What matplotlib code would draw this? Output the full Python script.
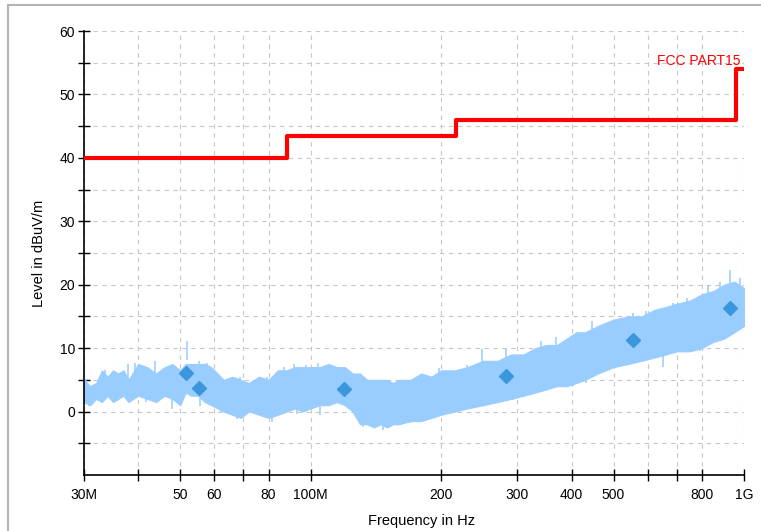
import matplotlib
matplotlib.use("Agg")
import matplotlib.pyplot as plt
from matplotlib.lines import Line2D

plt.rcParams['font.family'] = ['Liberation Sans', 'DejaVu Sans']

# spectrum band (MHz, dBuV/m)
spec_freq = [30, 31, 32, 33, 34, 35, 36, 37, 38, 40, 42, 44, 46, 48, 50, 51.5, 53, 55, 57, 59,
             61, 63, 66, 69, 72, 76, 80, 84, 88, 92, 96, 100, 105, 110, 115, 120, 125, 130,
             135, 140, 145, 150, 155, 160, 170, 180, 190, 200, 215, 230, 250, 270, 290, 310,
             330, 350, 370, 390, 410, 430, 460, 500, 540, 580, 620, 660, 700, 750, 800, 850,
             900, 950, 1000]
spec_hi = [5, 4, 4.5, 6.5, 5.5, 6.5, 6, 6.5, 5, 7.5, 7, 6, 7, 7.5, 6.5, 7.5, 7.5, 7.5, 7.5, 7,
           6, 5, 5.5, 5, 4.5, 5.5, 5, 6.5, 6.5, 7, 7, 7, 7, 7.5, 7, 7, 6, 6,
           5, 5, 5, 5, 4.5, 5, 5, 6, 5.5, 6.5, 6.5, 7, 8, 8, 9, 9,
           10, 10.5, 10.5, 11.5, 12.5, 12.5, 13.5, 14.5, 15, 15, 16, 16.5, 17, 17.5, 18.5, 19,
           20, 20.5, 19.5]
spec_lo = [1.5, 1, 2, 1.5, 2.5, 1.5, 2, 2.5, 1.5, 2.5, 2, 1.5, 2.5, 2, 1, 3, 2.5, 2.5, 1.5, 1,
           0.5, 0, -0.5, -1, 0, -0.5, -1, -0.5, 0, 0.5, 0, 0.5, 1, 1, 1.5, 1, 0, -2,
           -2, -2.5, -2, -2.5, -2, -2, -1.5, -1.5, -1, -0.5, 0, 0.5, 1, 1.5, 2, 2.5,
           3, 3.5, 4, 4, 4.5, 5, 6, 7, 7.5, 8, 8.5, 9, 9.5, 9.5, 10, 11,
           11.5, 12.5, 13.5]

# narrow peaks above the band
up_freq = [30.3, 33.5, 37.9, 39.4, 43.8, 46.5, 51.8, 55.4, 57.8, 61.3, 68.8, 79.2, 86.6, 91.6,
           97.8, 104, 121, 131, 144, 168, 198, 229, 249, 283, 340, 369, 445, 555, 594, 686,
           737, 826, 879, 930, 977]
up_top = [5.1, 6.6, 7.5, 7.7, 7.9, 6.9, 11.2, 7.9, 7.6, 5.7, 5.4, 5.4, 7.0, 7.5,
          7.4, 7.6, 6.3, 5.5, 4.7, 5.0, 6.8, 7.4, 9.8, 10.0, 11.1, 11.7, 14.3, 15.6, 15.8, 17.1,
          17.9, 20.0, 20.5, 22.3, 21.0]

# narrow dips below the band
down_freq = [30.8, 35.1, 41.6, 47.8, 55.6, 62, 67.7, 81.3, 93, 105, 132, 147, 169.5, 198,
             237, 293, 309, 403, 433, 499, 596, 650, 791, 895, 993]
down_bot = [0.9, 1.5, 1.5, 0.4, 0.9, -0.1, -1.2, -1.7, -0.4, -0.5, -2.4, -2.9, -1.8, -0.3,
            0.8, 1.8, 2.5, 4.0, 4.5, 7.0, 8.3, 7.0, 9.6, 11.4, 13.2]

# quasi-peak markers
mark_freq = [51.5, 55.4, 119.6, 283, 554, 930]
mark_level = [6.1, 3.7, 3.5, 5.6, 11.3, 16.4]

# FCC part 15 class B limit
limit_freq = [30, 88, 216, 960, 1000]
limit_level = [40, 43.5, 46, 54, 54]

xtick_major = [30, 50, 60, 80, 100, 200, 300, 400, 500, 800, 1000]
xtick_labels = ['30M', '50', '60', '80', '100M', '200', '300', '400', '500', '800', '1G']
xtick_minor = [40, 70, 600, 700]

fig = plt.figure(figsize=(7.61, 5.31), dpi=100)
ax = fig.add_axes([84 / 761, 56 / 531, 660 / 761, 444 / 531])

band = '#99ccff'
ax.fill_between(spec_freq, spec_lo, spec_hi, color=band, lw=0.8, edgecolor=band, zorder=2)
ax.vlines(up_freq, [t - 3 for t in up_top], up_top, color=band, lw=1.1, zorder=2)
ax.vlines(down_freq, down_bot, [b + 3 for b in down_bot], color=band, lw=1.1, zorder=2)
ax.plot(mark_freq, mark_level, 'D', color='#3c96dc', ms=7, mec='#3c96dc', zorder=4)
ax.step(limit_freq, limit_level, where='post', color='#ff0000', lw=3, zorder=3)
ax.text(982, 54.2, 'FCC PART15', color='#ff0000', fontsize=10, ha='right', va='bottom')

ax.set_xscale('log')
ax.set_xlim(30, 1000)
ax.set_ylim(-10, 60)
ax.set_xticks(xtick_major)
ax.set_xticklabels(xtick_labels)
ax.set_xticks(xtick_minor, minor=True)
ax.set_xticklabels([], minor=True)
ax.set_yticks(range(0, 61, 10))
ax.set_yticks(range(-5, 60, 10), minor=True)

ax.tick_params(which='both', direction='inout', length=9, width=1, labelsize=10, colors='black')
ax.tick_params(axis='x', pad=5)
ax.tick_params(axis='y', pad=2)
ax.grid(which='both', color='#c8c8c8', lw=0.8, linestyle=(0, (4, 4)))
ax.set_axisbelow(True)

for s in ['top', 'right']:
    ax.spines[s].set_visible(False)
for s in ['left', 'bottom']:
    ax.spines[s].set_linewidth(1.2)

ax.set_xlabel('Frequency in Hz', fontsize=10.5)
ax.xaxis.set_label_coords(0.512, -0.088)
ax.set_ylabel('Level in dBuV/m', fontsize=10.5)
ax.yaxis.set_label_coords(-0.058, 0.5)

# outer frame
fig.add_artist(Line2D([8 / 761, 8 / 761], [0, 1 - 5 / 531], transform=fig.transFigure, color='#b4b4b4', lw=1.5))
fig.add_artist(Line2D([8 / 761, 1], [1 - 5 / 531, 1 - 5 / 531], transform=fig.transFigure, color='#b4b4b4', lw=1.5))

fig.savefig('out.png', dpi=100)
